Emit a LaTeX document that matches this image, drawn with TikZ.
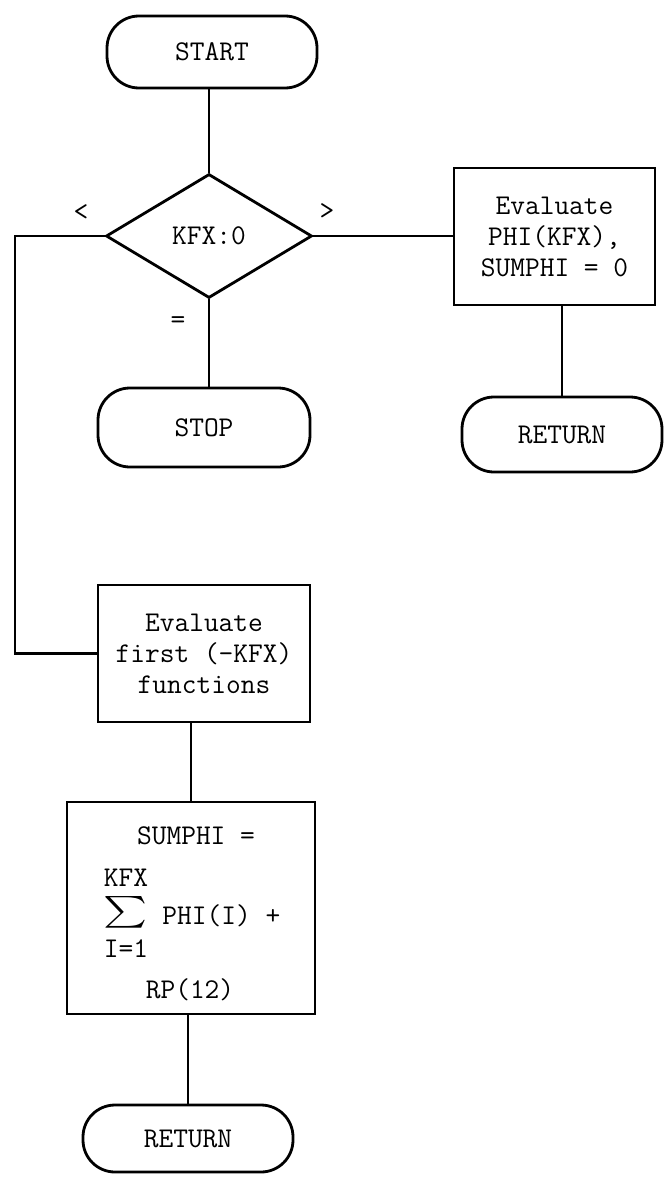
\documentclass[tikz,border=0pt]{standalone}
\usetikzlibrary{shapes.geometric}
\usepackage{exscale}
\newcommand\ttm{\ttfamily\fontsize{14.3}{15.5}\selectfont}
\newcommand\bigsig{\mathop{\vcenter{\hbox{\scalebox{1.45}[1.1]{$\sum$}}}}\limits^{\hbox{\ttm KFX}\rule[-3.5pt]{0pt}{1pt}}_{\rule{0pt}{12pt}\hbox{\ttm I=1}}}
\tikzset{
  lw/.style={line width=1.4pt},
  term/.style={draw, lw, rectangle, rounded corners=16pt, font=\ttm, align=center, inner sep=0pt},
  proc/.style={draw, lw, rectangle, font=\ttm, align=center, inner sep=0pt},
  decis/.style={draw, lw, diamond, font=\ttm, align=center, inner sep=0pt},
  conn/.style={lw},
  lbl/.style={font=\ttm, inner sep=0pt}
}
\begin{document}
\begin{tikzpicture}[x=0.5pt,y=-0.5pt]
\useasboundingbox (0,0) rectangle (666,1178);
% nodes
\node[term, minimum width=105pt, minimum height=36pt] (start) at (212,52) {START};
\node[decis, minimum width=103pt, minimum height=62pt] (dec) at (209,236) {KFX:0};
\node[proc, minimum width=100.5pt, minimum height=68.5pt] (rbox) at (554.5,236.5) {Evaluate\\PHI(KFX),\\SUMPHI = 0};
\node[term, minimum width=100pt, minimum height=37.5pt] (rret) at (562,434.5) {RETURN};
\node[term, minimum width=106pt, minimum height=39.5pt] (stop) at (204,427.5) {STOP};
\node[proc, minimum width=106pt, minimum height=68.5pt] (ebox) at (204,653.5) {Evaluate\\first (-KFX)\\functions};
\node[proc, minimum width=124pt, minimum height=106pt] (sbox) at (191,908) {};
\node[lbl] (s1) at (196,836) {SUMPHI =};
\node[inner sep=0pt, font=\fontsize{14.3}{15.5}\selectfont] (sig) at (126,913) {$\displaystyle\bigsig$};
\node[lbl, anchor=west] (phi) at (162,916) {PHI(I) +};
\node[lbl] (rp) at (190,990) {RP(12)};
\node[term, minimum width=105pt, minimum height=33.5pt] (ret) at (188,1138.5) {RETURN};
% branch labels
\node[lbl] (lt) at (81,213) {<};
\node[lbl] (gt) at (327,212) {>};
\node[lbl] (eq) at (178,323) {=};
% connectors
\draw[conn] (start.south -| dec.north) -- (dec.north);
\draw[conn] (dec.east) -- (rbox.west |- dec.east);
\draw[conn] (rret.north |- rbox.south) -- (rret.north);
\draw[conn] (dec.south) -- (dec.south |- stop.north);
\coordinate (lc) at (15,653.5);
\draw[conn] (dec.west) -| (lc) -- (ebox.west);
\draw[conn] (sbox.north |- ebox.south) -- (sbox.north);
\draw[conn] (ret.north |- sbox.south) -- (ret.north);
\end{tikzpicture}
\end{document}
